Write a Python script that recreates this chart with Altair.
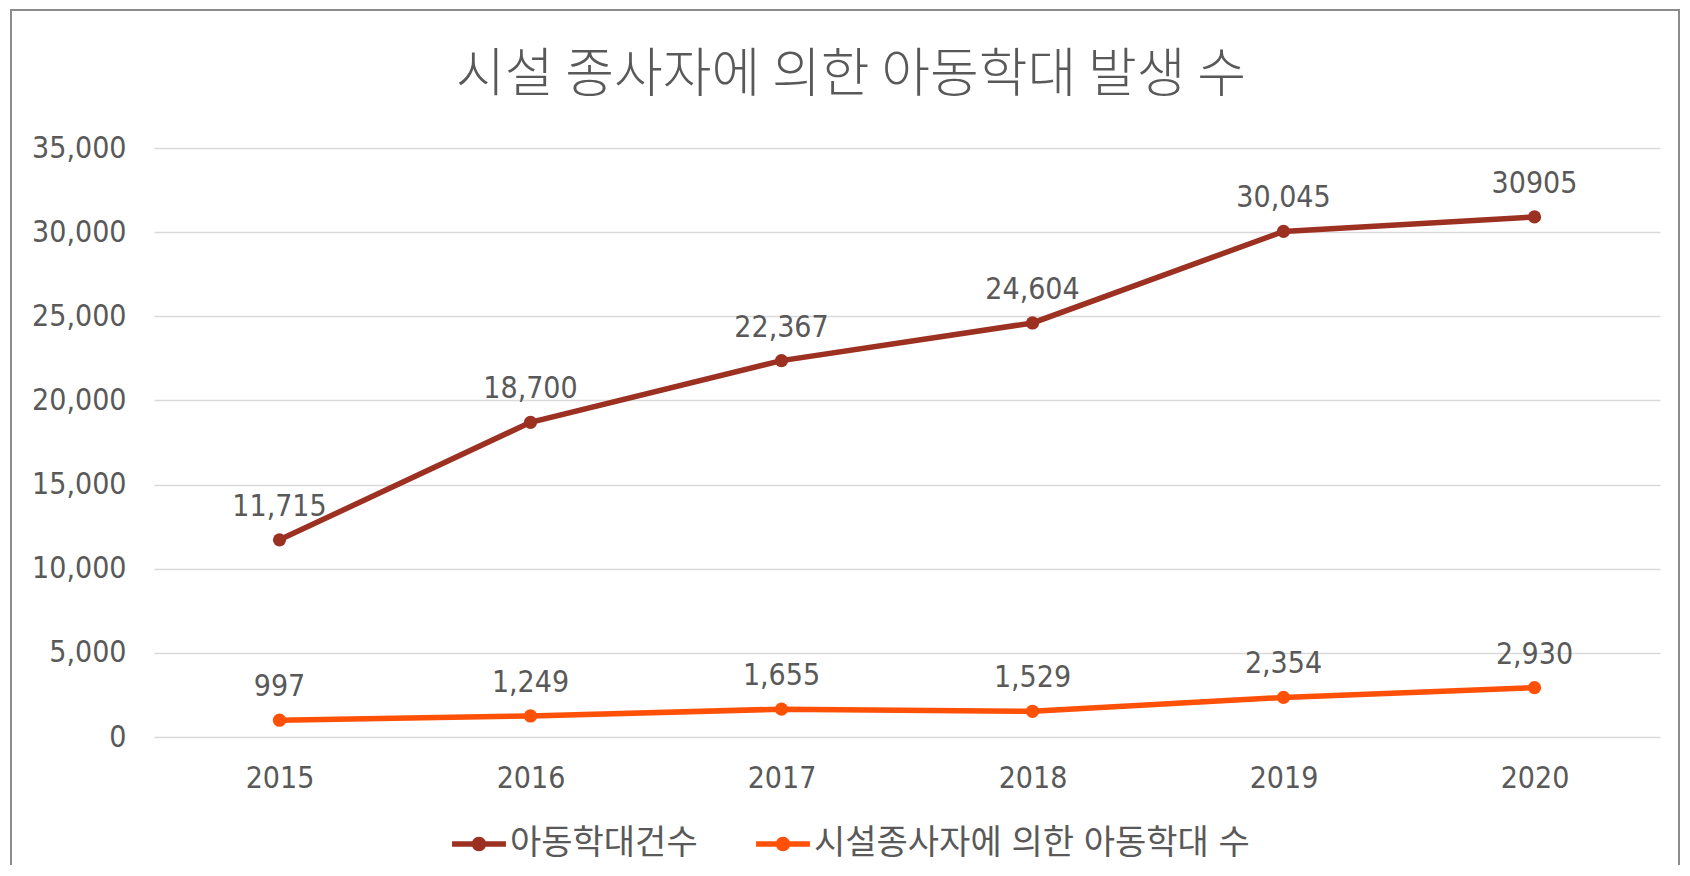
import altair as alt
import pandas as pd

years = ["2015", "2016", "2017", "2018", "2019", "2020"]
series_names = ["아동학대건수", "시설종사자에 의한 아동학대 수"]
total_cases = [11715, 18700, 22367, 24604, 30045, 30905]
total_labels = ["11,715", "18,700", "22,367", "24,604", "30,045", "30905"]
facility_cases = [997, 1249, 1655, 1529, 2354, 2930]
facility_labels = ["997", "1,249", "1,655", "1,529", "2,354", "2,930"]
y_ticks = [0, 5000, 10000, 15000, 20000, 25000, 30000, 35000]
colors = ["#9C3122", "#FF5008"]
title_text = "시설 종사자에 의한 아동학대 발생 수"

rows = []
for i, y in enumerate(years):
    rows.append({"year": y, "series": series_names[0], "value": total_cases[i], "label": total_labels[i]})
for i, y in enumerate(years):
    rows.append({"year": y, "series": series_names[1], "value": facility_cases[i], "label": facility_labels[i]})
df = pd.DataFrame(rows)

FONT = "Liberation Sans Narrow, DejaVu Sans Condensed, Noto Sans CJK KR, sans-serif"
GRAY = "#595959"

W, H = 1506, 589
PAD_L, PAD_T, PAD_R, PAD_B = 146, 140, 20, 128

legend_path = "M-1,-0.1H1V0.1H-1Z M0.27,0A0.27,0.27,0,1,1,-0.27,0A0.27,0.27,0,1,1,0.27,0Z"

color = alt.Color(
    "series:N",
    scale=alt.Scale(domain=series_names, range=colors),
    legend=alt.Legend(
        title=None,
        orient="none",
        direction="horizontal",
        legendX=298,
        legendY=669,
        symbolType=legend_path,
        symbolSize=2900,
        symbolStrokeWidth=0,
        labelFont=FONT,
        labelFontSize=34,
        labelColor=GRAY,
        labelOffset=4,
        labelLimit=0,
        columnPadding=58,
    ),
)

x = alt.X(
    "year:N",
    sort=years,
    scale=alt.Scale(paddingInner=0, paddingOuter=0),
    axis=alt.Axis(
        title=None, domain=False, ticks=False, grid=False, labelAngle=0,
        labelFont=FONT, labelFontSize=30, labelColor=GRAY, labelPadding=26,
    ),
)
y = alt.Y(
    "value:Q",
    scale=alt.Scale(domain=[0, 35000], nice=False),
    axis=alt.Axis(
        title=None, domain=False, ticks=False, values=y_ticks, format=",.0f",
        labelFont=FONT, labelFontSize=30, labelColor=GRAY, labelPadding=28,
        gridColor="#D9D9D9", gridWidth=1.5,
    ),
)

base = alt.Chart(df)

frame = alt.Chart(pd.DataFrame({"f": [0]})).mark_rect(
    fill=None, stroke="#8C8C8C", strokeWidth=2
).encode(
    x=alt.value(-143), x2=alt.value(W + PAD_R - 1),
    y=alt.value(-138), y2=alt.value(H + 200),
)

line = base.mark_line(strokeWidth=5.5).encode(x=x, y=y, color=color)
points = base.mark_point(filled=True, size=175, opacity=1).encode(x=x, y=y, color=color)
labels = base.mark_text(
    dy=-33, font=FONT, fontSize=30, color=GRAY
).encode(x=x, y=y, text="label:N")

chart = alt.layer(frame, line, points, labels).properties(
    width=W,
    height=H,
    title=alt.TitleParams(
        text=title_text, font="Noto Sans CJK KR", fontSize=53, fontWeight=300,
        color=GRAY, anchor="middle", offset=-94, dx=-56,
    ),
    autosize=alt.AutoSizeParams(type="none"),
    padding={"left": PAD_L, "top": PAD_T, "right": PAD_R, "bottom": PAD_B},
    background="white",
).configure_view(stroke=None)

chart.save("out.html", embed_options={"renderer": "svg", "actions": False})
